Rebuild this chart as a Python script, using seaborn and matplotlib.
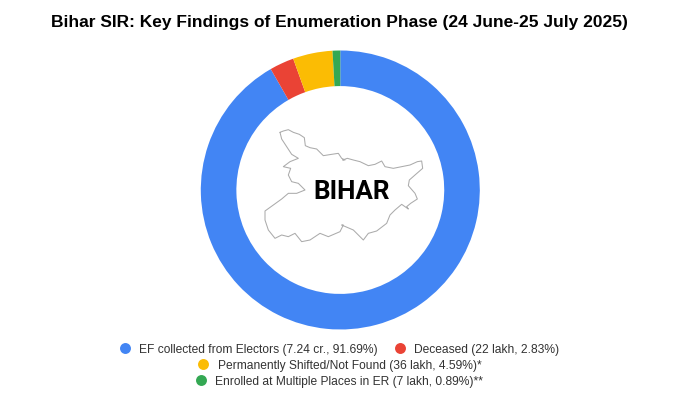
import matplotlib
matplotlib.use("Agg")
import matplotlib.pyplot as plt
import seaborn as sns

sns.set_theme(style="white")
plt.rcParams['font.family'] = ['Liberation Sans', 'DejaVu Sans']

title = "Bihar SIR: Key Findings of Enumeration Phase (24 June-25 July 2025)"
categories = ["EF collected from Electors (7.24 cr., 91.69%)",
              "Deceased (22 lakh, 2.83%)",
              "Permanently Shifted/Not Found (36 lakh, 4.59%)*",
              "Enrolled at Multiple Places in ER (7 lakh, 0.89%)**"]
values = [91.69, 2.83, 4.59, 0.89]
colors = ["#4285F4", "#EA4335", "#FBBC04", "#34A853"]
center_label = "BIHAR"

# Decorative state outline, traced in 3x-zoomed picture pixels
outline_nw = [(60,22),(70,18),(85,14),(100,22),(118,28),(133,38),(136,62),(150,68),(170,72),(190,92),(215,88),(235,85),(245,100),(255,105)]
outline_e = [(8,105),(22,100),(40,105),(60,110),(85,122),(105,118),(125,108),(135,125),(160,130),(185,125),(210,120),(232,110),(245,108),(248,130),(225,150),(208,165),(205,182),(225,205),(232,222),(212,235),(200,245),(205,252),(185,238),(165,255),(150,270),(140,295),(110,318),(85,325),(70,345),(55,330),(40,315),(5,300)]
outline_sw = [(250,300),(240,320),(205,335),(180,325),(150,345),(125,350),(105,325),(85,335),(65,330),(45,340),(25,315),(15,285),(15,258),(40,240),(65,222),(85,205),(110,205),(135,195),(115,175),(95,170),(85,150),(92,130),(70,125),(90,110),(115,100),(95,88),(80,65),(65,42),(60,22)]

LEG = [(125, 348, 139), (400, 348, 414), (203, 364, 218), (201, 380, 215)]

W, H = 696, 396
fig = plt.figure(figsize=(W / 100, H / 100), dpi=100, facecolor="white")

cx, cy, R = 340.3, 190, 139.5
ax = fig.add_axes([(cx - R) / W, 1 - (cy + R) / H, 2 * R / W, 2 * R / H])
ax.pie(values, colors=colors, startangle=90, counterclock=False, radius=1,
       wedgeprops=dict(width=0.255, linewidth=0))
ax.set_xlim(-1, 1)
ax.set_ylim(-1, 1)
ax.set_aspect("equal")

top = fig.add_axes([0, 0, 1, 1], zorder=5)
top.set_xlim(0, W)
top.set_ylim(H, 0)
top.axis("off")
top.patch.set_alpha(0)

ox = [260 + p[0] / 3 for p in outline_nw] + [340 + p[0] / 3 for p in outline_e] + [260 + p[0] / 3 for p in outline_sw]
oy = [125 + p[1] / 3 for p in outline_nw + outline_e + outline_sw]
top.plot(ox, oy, color="#ababab", lw=0.75, solid_joinstyle="round")
top.text(351.5, 192, center_label, ha="center", va="center", fontsize=18.7,
         fontweight="bold", family="Roboto", color="#000000")
top.text(339.5, 23, title, ha="center", va="center", fontsize=12.55,
         fontweight="bold", color="#000000")

for (dx, y, tx), c, lab in zip(LEG, colors, categories):
    top.scatter([dx], [y], s=62, color=c, linewidths=0)
    top.text(tx, y + 1.5, lab, ha="left", va="center", fontsize=8.62, color="#333333")

fig.savefig("out.png", dpi=100, facecolor="white")
